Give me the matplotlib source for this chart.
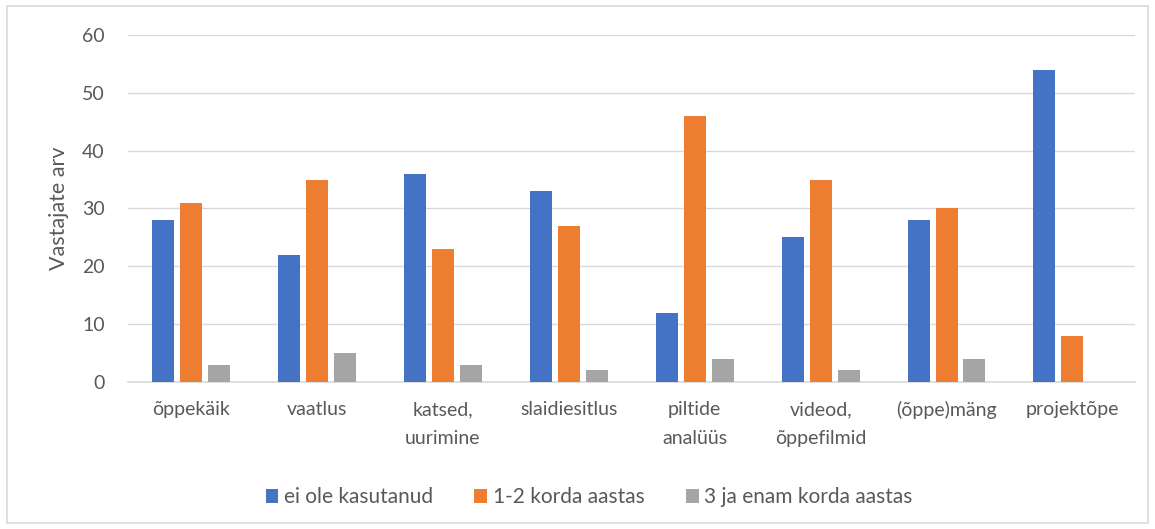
import numpy as np
import matplotlib.pyplot as plt

categories = ["õppekäik", "vaatlus", "katsed,\nuurimine", "slaidiesitlus",
              "piltide\nanalüüs", "videod,\nõppefilmid", "(õppe)mäng", "projektõpe"]
series_names = ["ei ole kasutanud", "1-2 korda aastas", "3 ja enam korda aastas"]
never = [28, 22, 36, 33, 12, 25, 28, 54]
once_twice = [31, 35, 23, 27, 46, 35, 30, 8]
three_plus = [3, 5, 3, 2, 4, 2, 4, 0]
colors = ["#4472C4", "#ED7D31", "#A5A5A5"]

plt.rcParams["font.family"] = ["Lato", "DejaVu Sans"]
text_col = "#595959"

fig = plt.figure(figsize=(11.55, 5.29), dpi=100)
ax = fig.add_axes([0.111, 0.278, 0.872, 0.656])

x = np.arange(len(categories))
w = 0.175
for i, (vals, name) in enumerate(zip([never, once_twice, three_plus], series_names)):
    ax.bar(x + (i - 1) * 0.222, vals, width=w, color=colors[i], label=name, zorder=3)

ax.set_xlim(-0.5, len(categories) - 0.5)
ax.set_ylim(0, 60)
ax.set_yticks(range(0, 61, 10))
ax.set_xticks(x)
ax.set_xticklabels(categories, fontsize=14, color=text_col, linespacing=1.8)
ax.tick_params(axis="y", labelsize=14, labelcolor=text_col, length=0, pad=17)
ax.tick_params(axis="x", length=0, pad=14)
ax.grid(axis="y", color="#d9d9d9", linewidth=1, zorder=0)
for s in ["top", "right", "left"]:
    ax.spines[s].set_visible(False)
ax.spines["bottom"].set_color("#d9d9d9")
ax.spines["bottom"].set_linewidth(1.2)
ax.set_ylabel("Vastajate arv", fontsize=15.5, color=text_col, labelpad=9)

fig.legend(loc="center", bbox_to_anchor=(0.51, 0.06), ncol=3, frameon=False,
           fontsize=15, labelcolor=text_col, handlelength=0.62, handleheight=0.62,
           handletextpad=0.25, columnspacing=2.0)

fig.patches.append(plt.Rectangle((0.006, 0.011), 0.988, 0.978, transform=fig.transFigure,
                                 fill=False, edgecolor="#d9d9d9", linewidth=1.2))

fig.savefig("out.png", dpi=100)
